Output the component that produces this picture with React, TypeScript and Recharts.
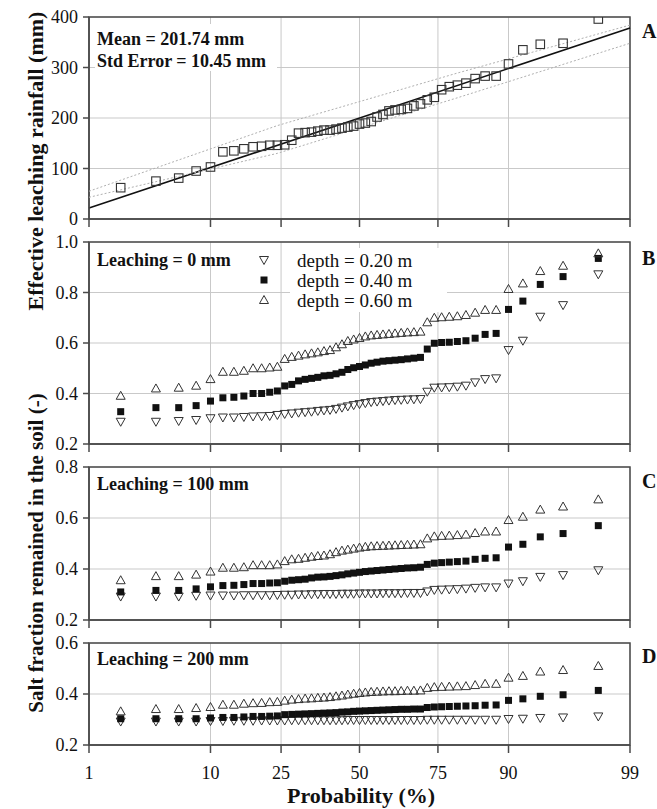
import React from "react";
import {
  ScatterChart,
  Scatter,
  XAxis,
  YAxis,
  CartesianGrid,
  ReferenceArea,
  ReferenceLine,
} from "recharts";

// plotting positions (%), one per year (49 years)
const PROB = [
  2, 4, 6, 8, 10, 12, 14, 16, 18, 20, 22, 24, 26, 28, 30, 32, 34, 36, 38, 40,
  42, 44, 46, 48, 50, 52, 54, 56, 58, 60, 62, 64, 66, 68, 70, 72, 74, 76, 78,
  80, 82, 84, 86, 88, 90, 92, 94, 96, 98,
];

const TICK_P = [1, 10, 25, 50, 75, 90, 99];
const TICK_LABELS = ["1", "10", "25", "50", "75", "90", "99"];

// panel A: effective leaching rainfall (mm)
const RAIN = [
  62, 75, 81, 95, 103, 133, 135, 139, 143, 144, 146, 146, 147, 156, 170, 171,
  172, 174, 176, 176, 178, 180, 182, 184, 188, 190, 193, 202, 207, 214, 216,
  217, 219, 224, 228, 236, 241, 256, 262, 265, 269, 278, 283, 283, 307, 335,
  346, 348, 396,
];
const FIT_P = [1, 99];
const FIT_Y = [22, 378];
// dotted band lines
const BAND_P = [1, 24, 80, 99];
const UPPER_Y = [55, 185, 289, 384];
const LOWER_Y = [43, 130, 240, 348];

// panel B: leaching = 0 mm
const B_D20 = [
  0.288, 0.288, 0.291, 0.295, 0.302, 0.305, 0.305, 0.307, 0.309, 0.31, 0.311,
  0.315, 0.319, 0.321, 0.324, 0.326, 0.328, 0.331, 0.333, 0.335, 0.339, 0.344,
  0.349, 0.354, 0.358, 0.362, 0.366, 0.368, 0.37, 0.372, 0.374, 0.375, 0.376,
  0.377, 0.378, 0.407, 0.423, 0.424, 0.425, 0.427, 0.431, 0.444, 0.457, 0.46,
  0.572, 0.609, 0.704, 0.75, 0.872,
];
const B_D40 = [
  0.328, 0.344, 0.344, 0.352, 0.37, 0.383, 0.385, 0.39, 0.4, 0.4, 0.405, 0.41,
  0.43, 0.436, 0.45, 0.456, 0.46, 0.464, 0.47, 0.472, 0.478, 0.484, 0.495,
  0.502, 0.507, 0.513, 0.52, 0.524, 0.528, 0.53, 0.532, 0.534, 0.537, 0.54,
  0.543, 0.576, 0.599, 0.602, 0.603, 0.606, 0.609, 0.619, 0.634, 0.638, 0.733,
  0.766, 0.832, 0.863, 0.935,
];
const B_D60 = [
  0.391, 0.42, 0.423, 0.431, 0.457, 0.486, 0.486, 0.49, 0.5, 0.5, 0.503, 0.506,
  0.537, 0.545, 0.55, 0.555, 0.559, 0.563, 0.568, 0.572, 0.583, 0.595, 0.608,
  0.614, 0.62, 0.626, 0.63, 0.632, 0.634, 0.636, 0.638, 0.64, 0.642, 0.643,
  0.645, 0.682, 0.7, 0.702, 0.704, 0.706, 0.711, 0.72, 0.731, 0.731, 0.814,
  0.836, 0.885, 0.906, 0.955,
];

// panel C: leaching = 100 mm
const C_D20 = [
  0.292, 0.292, 0.292, 0.295, 0.296, 0.296, 0.296, 0.297, 0.297, 0.297, 0.297,
  0.298, 0.299, 0.299, 0.3, 0.3, 0.301, 0.301, 0.302, 0.302, 0.302, 0.303,
  0.303, 0.303, 0.304, 0.304, 0.304, 0.304, 0.305, 0.305, 0.305, 0.305, 0.306,
  0.306, 0.306, 0.312, 0.318, 0.319, 0.32, 0.321, 0.323, 0.326, 0.328, 0.328,
  0.343, 0.352, 0.369, 0.376, 0.395,
];
const C_D40 = [
  0.31, 0.316, 0.316, 0.322, 0.33, 0.335, 0.336, 0.339, 0.343, 0.343, 0.345,
  0.346, 0.352, 0.356, 0.358, 0.36, 0.365, 0.368, 0.369, 0.371, 0.374, 0.377,
  0.381, 0.384, 0.387, 0.39, 0.392, 0.394, 0.396, 0.398, 0.4, 0.402, 0.404,
  0.405, 0.407, 0.418, 0.423, 0.425, 0.427, 0.429, 0.431, 0.438, 0.442, 0.444,
  0.486, 0.497, 0.526, 0.539, 0.57,
];
const C_D60 = [
  0.356, 0.372, 0.372, 0.378, 0.39, 0.405, 0.405, 0.407, 0.415, 0.415, 0.415,
  0.418, 0.431, 0.438, 0.44, 0.444, 0.448, 0.451, 0.453, 0.458, 0.466, 0.472,
  0.476, 0.48, 0.484, 0.487, 0.489, 0.49, 0.491, 0.492, 0.493, 0.494, 0.495,
  0.496, 0.497, 0.52, 0.528, 0.53, 0.531, 0.533, 0.535, 0.541, 0.547, 0.547,
  0.592, 0.605, 0.633, 0.645, 0.673,
];

// panel D: leaching = 200 mm
const D_D20 = [
  0.292, 0.292, 0.292, 0.292, 0.294, 0.294, 0.295, 0.295, 0.295, 0.296, 0.296,
  0.296, 0.296, 0.297, 0.297, 0.297, 0.297, 0.297, 0.297, 0.297, 0.297, 0.297,
  0.298, 0.298, 0.298, 0.298, 0.298, 0.298, 0.298, 0.298, 0.298, 0.298, 0.298,
  0.298, 0.298, 0.299, 0.299, 0.299, 0.299, 0.299, 0.299, 0.299, 0.299, 0.299,
  0.302, 0.303, 0.306, 0.308, 0.312,
];
const D_D40 = [
  0.303, 0.303, 0.303, 0.303, 0.306, 0.308, 0.308, 0.31, 0.312, 0.312, 0.313,
  0.314, 0.319, 0.32, 0.321, 0.322, 0.323, 0.324, 0.325, 0.326, 0.327, 0.329,
  0.33, 0.332, 0.333, 0.334, 0.335, 0.336, 0.337, 0.338, 0.339, 0.34, 0.34,
  0.341, 0.341, 0.347, 0.349, 0.35, 0.351, 0.352, 0.353, 0.354, 0.356, 0.357,
  0.375, 0.381, 0.391, 0.397, 0.414,
];
const D_D60 = [
  0.332, 0.341, 0.341, 0.345, 0.349, 0.358, 0.358, 0.362, 0.364, 0.365, 0.368,
  0.369, 0.374, 0.378, 0.38, 0.382, 0.383, 0.385, 0.386, 0.388, 0.391, 0.394,
  0.398, 0.401, 0.404, 0.406, 0.408, 0.409, 0.41, 0.411, 0.411, 0.412, 0.413,
  0.413, 0.414, 0.424, 0.427, 0.428, 0.429, 0.43, 0.431, 0.435, 0.44, 0.44,
  0.464, 0.471, 0.488, 0.494, 0.51,
];

const FONT = '"Liberation Serif", "Times New Roman", serif';
const GRID = "#c9c9c9";
const FRAME = "#4a4a4a";
const MARK = "#333";

// inverse normal cdf (Acklam) -> probability axis
function probit(p: number): number {
  const a = [-39.69683028665376, 220.9460984245205, -275.9285104469687, 138.357751867269, -30.66479806614716, 2.506628277459239];
  const b = [-54.47609879822406, 161.5858368580409, -155.6989798598866, 66.80131188771972, -13.28068155288572];
  const c = [-0.007784894002430293, -0.3223964580411365, -2.400758277161838, -2.549732539343734, 4.374664141464968, 2.938163982698783];
  const d = [0.007784695709041462, 0.3224671290700398, 2.445134137142996, 3.754408661907416];
  const pl = 0.02425;
  if (p < pl) {
    const q = Math.sqrt(-2 * Math.log(p));
    return (((((c[0] * q + c[1]) * q + c[2]) * q + c[3]) * q + c[4]) * q + c[5]) /
      ((((d[0] * q + d[1]) * q + d[2]) * q + d[3]) * q + 1);
  }
  if (p > 1 - pl) {
    const q = Math.sqrt(-2 * Math.log(1 - p));
    return -(((((c[0] * q + c[1]) * q + c[2]) * q + c[3]) * q + c[4]) * q + c[5]) /
      ((((d[0] * q + d[1]) * q + d[2]) * q + d[3]) * q + 1);
  }
  const q = p - 0.5;
  const r = q * q;
  return ((((((a[0] * r + a[1]) * r + a[2]) * r + a[3]) * r + a[4]) * r + a[5]) * q) /
    (((((b[0] * r + b[1]) * r + b[2]) * r + b[3]) * r + b[4]) * r + 1);
}

const TICK_Z = TICK_P.map((p) => probit(p / 100));
const Z_DOMAIN = [TICK_Z[0], TICK_Z[TICK_Z.length - 1]];

const toPts = (vals: number[], probs: number[] = PROB) =>
  probs.map((p, i) => ({ z: probit(p / 100), y: vals[i] }));

function OpenSquare({ cx, cy, s = 8.5 }: any) {
  if (cx == null || cy == null) return <g />;
  return <rect x={cx - s / 2} y={cy - s / 2} width={s} height={s} fill="none" stroke={MARK} strokeWidth={1.1} />;
}
function FilledSquare({ cx, cy }: any) {
  if (cx == null || cy == null) return <g />;
  return <rect x={cx - 3.5} y={cy - 3.5} width={7} height={7} fill="#111" />;
}
function TriUp({ cx, cy }: any) {
  if (cx == null || cy == null) return <g />;
  return <path d={`M${cx},${cy - 4.5}L${cx + 4.5},${cy + 3.5}L${cx - 4.5},${cy + 3.5}Z`} fill="none" stroke={MARK} strokeWidth={1} />;
}
function TriDown({ cx, cy }: any) {
  if (cx == null || cy == null) return <g />;
  return <path d={`M${cx - 4.5},${cy - 3.5}L${cx + 4.5},${cy - 3.5}L${cx},${cy + 4.5}Z`} fill="none" stroke={MARK} strokeWidth={1} />;
}
const NoDot = () => <g />;

interface PanelProps {
  top: number;
  height: number;
  xHeight: number;
  yDomain: number[];
  yTicks: number[];
  yFmt: (v: number) => string;
  showX?: boolean;
  children?: React.ReactNode;
}

function Panel({ top, height, xHeight, yDomain, yTicks, yFmt, showX, children }: PanelProps) {
  const tickStyle = { fontSize: 18, fill: "#111", fontFamily: FONT };
  return (
    <div style={{ position: "absolute", left: 0, top }}>
      <ScatterChart width={657} height={height} margin={{ top: 17, right: 27, bottom: 0, left: 0 }}>
        <CartesianGrid stroke={GRID} strokeWidth={1} />
        <XAxis
          type="number"
          dataKey="z"
          domain={Z_DOMAIN}
          ticks={TICK_Z}
          interval={0}
          allowDataOverflow
          height={xHeight}
          tickSize={8}
          tickMargin={13}
          tick={tickStyle}
          tickFormatter={(v: number) => {
            if (!showX) return "";
            const i = TICK_Z.findIndex((t) => Math.abs(t - v) < 1e-6);
            return i >= 0 ? TICK_LABELS[i] : "";
          }}
          axisLine={{ stroke: FRAME, strokeWidth: 1.5 }}
          tickLine={{ stroke: FRAME, strokeWidth: 1.5 }}
        />
        <YAxis
          type="number"
          dataKey="y"
          domain={yDomain}
          ticks={yTicks}
          interval={0}
          allowDataOverflow
          width={89}
          tickSize={6}
          tickMargin={5}
          tick={tickStyle}
          tickFormatter={yFmt}
          axisLine={{ stroke: FRAME, strokeWidth: 1.5 }}
          tickLine={{ stroke: FRAME, strokeWidth: 1.5 }}
        />
        <ReferenceArea
          x1={Z_DOMAIN[0]}
          x2={Z_DOMAIN[1]}
          y1={yDomain[0]}
          y2={yDomain[1]}
          fill="none"
          fillOpacity={0}
          stroke={FRAME}
          strokeWidth={1.5}
          ifOverflow="visible"
        />
        {children}
      </ScatterChart>
    </div>
  );
}

const fmt1 = (v: number) => v.toFixed(1);

export default function App() {
  const fitSeg = [
    { x: probit(FIT_P[0] / 100), y: FIT_Y[0] },
    { x: probit(FIT_P[1] / 100), y: FIT_Y[1] },
  ];
  const dotted = { stroke: "#b0b0b0", strokeWidth: 1, strokeDasharray: "2 2" };

  return (
    <div style={{ position: "absolute", left: 0, top: 0, width: 657, height: 809, background: "#fff", fontFamily: FONT }}>
      {/* A */}
      <Panel top={0} height={240} xHeight={21} yDomain={[0, 400]} yTicks={[0, 100, 200, 300, 400]} yFmt={(v) => String(v)}>
        <Scatter data={toPts(UPPER_Y, BAND_P)} line={dotted} shape={NoDot} isAnimationActive={false} />
        <Scatter data={toPts(LOWER_Y, BAND_P)} line={dotted} shape={NoDot} isAnimationActive={false} />
        <ReferenceLine segment={fitSeg} stroke="#111" strokeWidth={1.6} ifOverflow="visible" />
        <Scatter data={toPts(RAIN)} shape={(p: any) => <OpenSquare {...p} />} isAnimationActive={false} />
      </Panel>

      {/* B */}
      <Panel top={225} height={240} xHeight={21} yDomain={[0.2, 1.0]} yTicks={[0.2, 0.4, 0.6, 0.8, 1.0]} yFmt={fmt1}>
        <Scatter data={toPts(B_D20)} shape={(p: any) => <TriDown {...p} />} isAnimationActive={false} />
        <Scatter data={toPts(B_D40)} shape={(p: any) => <FilledSquare {...p} />} isAnimationActive={false} />
        <Scatter data={toPts(B_D60)} shape={(p: any) => <TriUp {...p} />} isAnimationActive={false} />
      </Panel>

      {/* C */}
      <Panel top={450} height={191} xHeight={21} yDomain={[0.2, 0.8]} yTicks={[0.2, 0.4, 0.6, 0.8]} yFmt={fmt1}>
        <Scatter data={toPts(C_D20)} shape={(p: any) => <TriDown {...p} />} isAnimationActive={false} />
        <Scatter data={toPts(C_D40)} shape={(p: any) => <FilledSquare {...p} />} isAnimationActive={false} />
        <Scatter data={toPts(C_D60)} shape={(p: any) => <TriUp {...p} />} isAnimationActive={false} />
      </Panel>

      {/* D */}
      <Panel top={626} height={175} xHeight={56} yDomain={[0.2, 0.6]} yTicks={[0.2, 0.4, 0.6]} yFmt={fmt1} showX>
        <Scatter data={toPts(D_D20)} shape={(p: any) => <TriDown {...p} />} isAnimationActive={false} />
        <Scatter data={toPts(D_D40)} shape={(p: any) => <FilledSquare {...p} />} isAnimationActive={false} />
        <Scatter data={toPts(D_D60)} shape={(p: any) => <TriUp {...p} />} isAnimationActive={false} />
      </Panel>

      {/* titles, panel letters, notes, legend */}
      <svg width={657} height={809} style={{ position: "absolute", left: 0, top: 0, pointerEvents: "none" }} fontFamily={FONT}>
        <text x={43} y={161} transform="rotate(-90, 43, 161)" textAnchor="middle" fontSize={22} fontWeight="bold" fill="#111">
          Effective leaching rainfall (mm)
        </text>
        <text x={43} y={553} transform="rotate(-90, 43, 553)" textAnchor="middle" fontSize={21} fontWeight="bold" fill="#111">
          Salt fraction remained in the soil (-)
        </text>
        <text x={361} y={803} textAnchor="middle" fontSize={22} fontWeight="bold" fill="#111">
          Probability (%)
        </text>

        <text x={642} y={38} fontSize={20} fontWeight="bold" fill="#111">A</text>
        <text x={642} y={265} fontSize={20} fontWeight="bold" fill="#111">B</text>
        <text x={642} y={488} fontSize={20} fontWeight="bold" fill="#111">C</text>
        <text x={642} y={663} fontSize={20} fontWeight="bold" fill="#111">D</text>

        <rect x={95} y={24} width={182} height={47} fill="#fff" />
        <text x={97} y={45} fontSize={18} fontWeight="bold" fill="#111">Mean = 201.74 mm</text>
        <text x={97} y={67} fontSize={18} fontWeight="bold" fill="#111">Std Error = 10.45 mm</text>

        <text x={97} y={266} fontSize={18} fontWeight="bold" fill="#111">Leaching = 0 mm</text>
        <text x={97} y={490} fontSize={18} fontWeight="bold" fill="#111">Leaching = 100 mm</text>
        <text x={97} y={665} fontSize={18} fontWeight="bold" fill="#111">Leaching = 200 mm</text>

        <rect x={290} y={248} width={157} height={64} fill="#fff" />
        <TriDown cx={264} cy={260} />
        <FilledSquare cx={264} cy={280} />
        <TriUp cx={264} cy={300} />
        <text x={297} y={267} fontSize={19} fill="#111">depth = 0.20 m</text>
        <text x={297} y={287} fontSize={19} fill="#111">depth = 0.40 m</text>
        <text x={297} y={307} fontSize={19} fill="#111">depth = 0.60 m</text>
      </svg>
    </div>
  );
}
